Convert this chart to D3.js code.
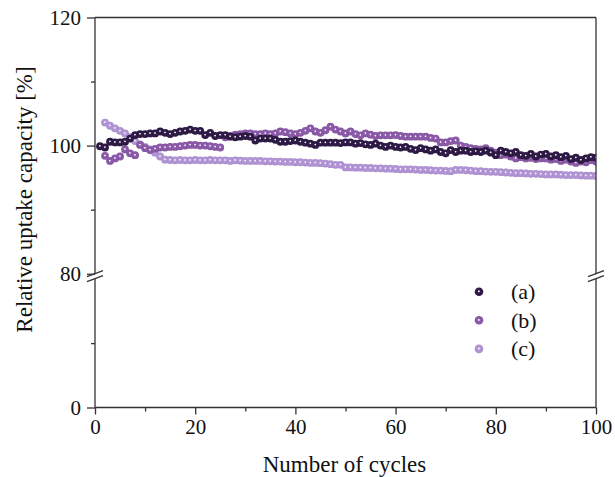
<!DOCTYPE html>
<html>
<head>
<meta charset="utf-8">
<script src="https://cdn.jsdelivr.net/npm/d3@7"></script>
<style>
  html, body { margin: 0; padding: 0; background: #fff; }
  svg { display: block; }
</style>
</head>
<body>
<svg id="chart" width="615" height="477" font-family="Liberation Serif, DejaVu Serif, serif"></svg>
<script>
// Relative uptake capacity per cycle, three samples
const seriesNames = ["(a)", "(b)", "(c)"];
const seriesColors = ["#2f1b47", "#8f5cad", "#b798db"];
const firstCycle = [1, 2, 2];

const seriesA = [
  99.9, 99.7, 100.6, 100.5, 100.5, 100.6, 101.1, 101.65, 101.8, 101.8,
  101.9, 101.9, 102.2, 102.0, 101.8, 102.0, 102.2, 102.3, 102.5, 102.3,
  102.3, 101.65, 102.0, 101.5, 101.65, 101.65, 101.4, 101.3, 101.4, 101.5,
  101.4, 100.8, 101.1, 101.1, 101.1, 100.9, 100.6, 100.6, 100.7, 100.8,
  100.6, 100.45, 100.3, 100.1, 100.45, 100.45, 100.45, 100.45, 100.4, 100.5,
  100.5, 100.3, 100.4, 100.2, 100.1, 100.3, 100.0, 99.8, 100.0, 99.8,
  99.7, 99.8, 99.5, 99.3, 99.6, 99.4, 99.2, 99.4, 99.0, 98.8,
  99.3, 99.0, 99.2, 99.2, 99.0, 99.1, 99.0, 99.2, 98.9, 98.5,
  99.2, 99.0, 98.8, 99.0, 98.5, 98.4, 98.7, 98.3, 98.6, 98.7,
  98.3, 98.5, 98.2, 98.4, 97.9, 98.1, 97.75, 98.0, 98.2, 98.1
];

const seriesB = [
  98.4, 97.6, 98.0, 98.3, 99.4, 98.8, 98.5, 100.1, 99.6, 99.3,
  99.5, 99.7, 99.7, 99.8, 99.8, 99.9, 100.0, 100.1, 100.1, 100.0,
  100.0, 99.9, 99.8, 99.7,
  101.3, 101.5, 101.7, 101.8, 101.9, 101.9, 101.8, 101.8, 101.9, 101.8,
  101.9, 102.2, 102.1, 101.9, 101.8, 102.0, 102.3, 102.7, 102.2, 102.0,
  102.4, 102.95, 102.5, 102.2, 101.9, 102.2, 101.8, 101.6, 101.9, 101.7,
  101.5, 101.6, 101.6, 101.6, 101.65, 101.5, 101.4, 101.4, 101.4, 101.4,
  101.4, 101.2, 101.1,
  100.5, 100.5, 100.7, 100.8, 100.0, 99.8, 99.6, 99.5, 99.4, 99.6,
  99.2, 98.9, 98.5, 98.6, 98.3, 98.0, 98.2, 98.0, 98.1, 97.9,
  98.0, 98.0, 97.8, 97.9, 97.6, 97.8, 97.5, 97.3, 97.5, 97.4,
  97.75, 97.5
];

const seriesC = [
  103.6, 103.1, 102.7, 102.3, 101.9, 101.3, 100.7, 100.2, 99.8, 99.4,
  98.9, 98.3, 97.8, 97.75,
  97.7, 97.75, 97.7, 97.7, 97.75, 97.7, 97.7, 97.75, 97.7, 97.7,
  97.7, 97.6, 97.7, 97.65, 97.6, 97.6, 97.6, 97.6, 97.55, 97.55,
  97.5, 97.5, 97.45, 97.45, 97.4, 97.4, 97.35, 97.3, 97.3, 97.25,
  97.2, 97.1, 97.0, 97.0,
  96.6, 96.6, 96.55, 96.55, 96.5, 96.5, 96.45, 96.45, 96.4, 96.4, 96.35,
  96.3, 96.3, 96.3, 96.25, 96.2, 96.2, 96.15, 96.1, 96.1, 96.05,
  96.0, 96.2, 96.2, 96.15, 96.1,
  96.0, 96.0, 95.95, 95.9, 95.9, 95.85, 95.8, 95.75, 95.7, 95.7,
  95.65, 95.6, 95.6, 95.55, 95.5, 95.5, 95.5, 95.45, 95.4, 95.4,
  95.4, 95.35, 95.3, 95.3, 95.25
];

const xMajorTicks = [0, 20, 40, 60, 80, 100];
const xMinorTicks = [10, 30, 50, 70, 90];
const yHighMajor = [80, 100, 120];
const yHighMinor = [90, 110];
const yLowMajor = [0];
const yLowMinor = [40];

const svg = d3.select("#chart");
const axisColor = "#333";
const serif = "Liberation Serif, DejaVu Serif, serif";

const plotLeft = 95, plotRight = 596, plotTop = 17.5, plotBottom = 407.5;
const x = d3.scaleLinear().domain([0, 100]).range([plotLeft, plotRight]);
// broken y axis: lower segment 0–80, upper segment 80–120
const yLow = d3.scaleLinear().domain([0, 80]).range([plotBottom, 278.7]);
const yHigh = d3.scaleLinear().domain([80, 120]).range([273.7, plotTop]);

// gradients for shaded bead markers
const defs = svg.append("defs");
seriesColors.forEach((c, i) => {
  const g = defs.append("radialGradient").attr("id", "bead" + i)
    .attr("cx", "50%").attr("cy", "50%").attr("r", "50%")
    .attr("fx", "48%").attr("fy", "44%");
  g.append("stop").attr("offset", "0%").attr("stop-color", "#ffffff");
  g.append("stop").attr("offset", "10%").attr("stop-color", "#f4f0f8");
  g.append("stop").attr("offset", "32%").attr("stop-color", c);
  g.append("stop").attr("offset", "100%").attr("stop-color", d3.color(c).darker(0.2));
});
defs.append("clipPath").attr("id", "plotClip")
  .append("rect").attr("x", plotLeft).attr("y", plotTop)
  .attr("width", plotRight - plotLeft).attr("height", plotBottom - plotTop);

// data beads, light series first so the darker ones sit on top
const allSeries = [seriesA, seriesB, seriesC];
const plot = svg.append("g").attr("clip-path", "url(#plotClip)");
[2, 1, 0].forEach(si => {
  const pts = allSeries[si].map((v, i) => ({ c: firstCycle[si] + i, v }));
  plot.append("g").selectAll("circle").data(pts).enter().append("circle")
    .attr("cx", d => x(d.c))
    .attr("cy", d => yHigh(d.v))
    .attr("r", 3.9)
    .attr("fill", `url(#bead${si})`);
});

// frame lines
const frame = svg.append("g").attr("stroke", axisColor).attr("stroke-width", 1.3).attr("fill", "none");
frame.append("line").attr("x1", plotLeft).attr("x2", plotRight).attr("y1", plotTop).attr("y2", plotTop);
frame.append("line").attr("x1", plotLeft).attr("x2", plotRight).attr("y1", plotBottom).attr("y2", plotBottom);
[plotLeft, plotRight].forEach(xx => {
  frame.append("line").attr("x1", xx).attr("x2", xx).attr("y1", plotTop).attr("y2", yHigh(80));
  frame.append("line").attr("x1", xx).attr("x2", xx).attr("y1", yLow(80)).attr("y2", plotBottom);
});
// break marks
[plotLeft, plotRight].forEach(xx => {
  [yHigh(80), yLow(80)].forEach(yy => {
    frame.append("line")
      .attr("x1", xx - 8).attr("y1", yy + 3)
      .attr("x2", xx + 8).attr("y2", yy - 3);
  });
});

function styleAxis(g) {
  g.attr("font-family", serif);
  g.select(".domain").remove();
  g.selectAll(".tick line").attr("stroke", axisColor).attr("stroke-width", 1.3);
  g.selectAll(".tick text").attr("fill", "#111");
}

// x axis
svg.append("g").attr("transform", `translate(0,${plotBottom})`)
  .call(d3.axisBottom(x).tickValues(xMajorTicks).tickSize(7).tickPadding(5).tickFormat(d3.format("d")))
  .call(styleAxis)
  .call(g => g.attr("font-size", 21));
svg.append("g").attr("transform", `translate(0,${plotBottom})`)
  .call(d3.axisBottom(x).tickValues(xMinorTicks).tickSize(4).tickFormat(""))
  .call(styleAxis);

// y axis, upper and lower segments
[[yHigh, yHighMajor, yHighMinor], [yLow, yLowMajor, yLowMinor]].forEach(([sc, maj, mn]) => {
  svg.append("g").attr("transform", `translate(${plotLeft},0)`)
    .call(d3.axisLeft(sc).tickValues(maj).tickSize(8).tickPadding(6).tickFormat(d3.format("d")))
    .call(styleAxis)
    .call(g => g.attr("font-size", 21));
  svg.append("g").attr("transform", `translate(${plotLeft},0)`)
    .call(d3.axisLeft(sc).tickValues(mn).tickSize(4).tickFormat(""))
    .call(styleAxis);
});

// axis titles
svg.append("text")
  .attr("x", (plotLeft + plotRight) / 2 - 1).attr("y", 472)
  .attr("text-anchor", "middle").attr("font-size", 23).attr("fill", "#111")
  .text("Number of cycles");
svg.append("text")
  .attr("transform", "translate(31.5,199.5) rotate(-90)")
  .attr("text-anchor", "middle").attr("font-size", 23).attr("fill", "#111")
  .text("Relative uptake capacity [%]");

// legend
const legend = svg.append("g");
seriesNames.forEach((name, i) => {
  const ly = 291.7 + i * 28.6;
  legend.append("circle").attr("cx", 479).attr("cy", ly).attr("r", 4.3)
    .attr("fill", `url(#bead${i})`);
  legend.append("text").attr("x", 511).attr("y", ly + 7.5)
    .attr("font-size", 22).attr("fill", "#111").text(name);
});
</script>
</body>
</html>
